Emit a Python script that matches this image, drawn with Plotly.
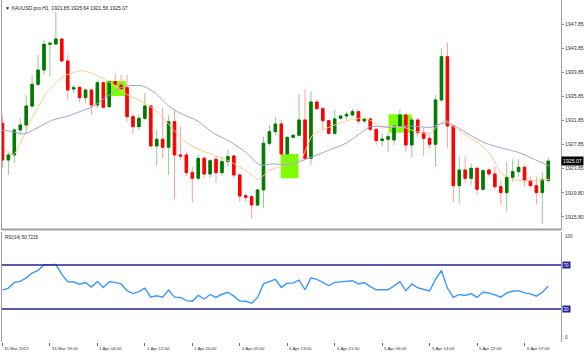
import plotly.graph_objects as go

# ---------------- data ----------------
bars = list(range(1, 94))

opens = [1931.35, 1925.26, 1926.10, 1930.25, 1931.08, 1934.23, 1937.83, 1940.21, 1944.48, 1944.53,
         1945.36, 1941.71, 1937.06, 1937.34, 1935.62, 1936.89, 1934.40, 1938.11, 1934.12, 1938.28,
         1937.72, 1937.28, 1932.46, 1930.80, 1932.19, 1934.23, 1927.59, 1928.70, 1927.37, 1931.63,
         1926.10, 1926.10, 1923.16, 1922.22, 1925.54, 1922.94, 1925.37, 1923.16, 1924.99, 1925.93,
         1922.77, 1919.34, 1919.17, 1917.79, 1920.28, 1928.03, 1929.97, 1931.24, 1926.26, 1929.03,
         1929.36, 1931.91, 1925.54, 1934.90, 1933.79, 1931.80, 1929.69, 1932.19, 1932.57, 1932.74,
         1933.29, 1931.74, 1932.08, 1930.36, 1928.48, 1928.70, 1928.59, 1930.91, 1932.74, 1927.76,
         1931.91, 1929.80, 1928.86, 1927.87, 1935.23, 1942.43, 1930.91, 1921.00, 1923.60, 1922.22,
         1923.88, 1920.39, 1923.60, 1922.94, 1920.83, 1919.84, 1922.39, 1923.33, 1924.05, 1921.83,
         1921.00, 1919.84, 1921.85]
highs = [1932.74, 1926.65, 1930.52, 1932.19, 1936.06, 1939.38, 1942.71, 1945.20, 1944.92, 1949.85,
         1945.47, 1942.71, 1937.72, 1937.45, 1937.17, 1937.17, 1938.55, 1938.28, 1938.55, 1939.66,
         1939.38, 1939.38, 1933.02, 1932.85, 1936.34, 1934.40, 1930.25, 1934.01, 1932.74, 1933.57,
         1930.80, 1926.65, 1924.16, 1926.21, 1925.93, 1925.37, 1925.93, 1925.82, 1926.93, 1926.10,
         1923.05, 1919.73, 1919.45, 1920.56, 1929.14, 1931.08, 1932.46, 1931.91, 1929.14, 1929.53,
         1936.23, 1937.00, 1936.62, 1935.23, 1934.01, 1931.91, 1933.57, 1932.74, 1933.29, 1933.68,
         1933.57, 1932.19, 1932.30, 1930.52, 1929.69, 1929.80, 1931.91, 1933.68, 1933.02, 1932.19,
         1932.19, 1930.80, 1929.42, 1936.06, 1943.81, 1944.75, 1931.08, 1925.82, 1925.82, 1924.71,
         1924.16, 1923.71, 1923.88, 1924.16, 1921.94, 1924.99, 1925.37, 1925.37, 1924.43, 1922.50,
         1922.50, 1923.33, 1925.64]
lows = [1923.88, 1922.77, 1924.71, 1929.42, 1929.69, 1933.85, 1937.45, 1939.38, 1939.11, 1944.37,
        1941.60, 1935.23, 1936.34, 1934.79, 1934.68, 1932.74, 1933.85, 1933.85, 1934.01, 1936.89,
        1936.89, 1931.63, 1929.53, 1930.25, 1931.91, 1927.48, 1924.32, 1925.54, 1922.77, 1918.73,
        1925.26, 1922.61, 1918.18, 1921.94, 1922.22, 1922.22, 1921.50, 1922.61, 1924.16, 1922.22,
        1918.34, 1918.34, 1915.57, 1917.51, 1917.24, 1927.59, 1929.42, 1925.54, 1924.16, 1928.86,
        1929.03, 1925.37, 1924.43, 1933.57, 1930.25, 1929.42, 1929.42, 1932.02, 1931.91, 1932.46,
        1931.19, 1931.35, 1929.97, 1927.76, 1927.48, 1926.65, 1927.76, 1929.97, 1926.65, 1925.71,
        1929.14, 1925.93, 1927.20, 1924.16, 1934.95, 1927.20, 1918.18, 1918.07, 1921.39, 1921.11,
        1919.45, 1920.17, 1922.50, 1920.28, 1917.79, 1916.68, 1921.66, 1922.50, 1920.83, 1920.72,
        1917.90, 1914.74, 1921.56]
closes = [1925.26, 1926.10, 1930.25, 1931.08, 1934.23, 1937.83, 1940.21, 1944.48, 1944.64, 1945.36,
          1941.71, 1936.89, 1937.28, 1935.62, 1936.89, 1934.40, 1938.11, 1934.01, 1938.28, 1937.83,
          1937.06, 1932.46, 1930.80, 1932.19, 1934.23, 1927.59, 1928.70, 1927.37, 1931.63, 1926.10,
          1925.93, 1923.16, 1922.22, 1925.54, 1922.94, 1925.15, 1923.16, 1924.99, 1925.82, 1922.77,
          1919.28, 1919.06, 1917.79, 1920.28, 1928.03, 1929.97, 1931.24, 1926.26, 1929.03, 1929.36,
          1931.91, 1925.54, 1934.90, 1933.79, 1931.80, 1929.69, 1932.08, 1932.57, 1932.85, 1933.29,
          1931.74, 1932.08, 1930.36, 1928.48, 1928.75, 1929.14, 1930.91, 1932.74, 1927.76, 1931.91,
          1929.80, 1928.86, 1927.87, 1935.23, 1942.43, 1930.91, 1921.00, 1923.60, 1922.22, 1923.88,
          1920.39, 1923.49, 1922.94, 1920.83, 1919.84, 1922.39, 1923.33, 1924.05, 1921.83, 1921.00,
          1919.84, 1922.05, 1925.07]

rsi = [47.2, 49.0, 54.2, 55.1, 58.3, 62.7, 65.0, 70.2, 70.3, 70.4,
       61.5, 54.8, 54.5, 52.5, 54.0, 49.9, 55.1, 49.6, 54.8, 54.2,
       52.8, 46.7, 44.0, 45.8, 49.0, 40.8, 42.0, 40.8, 47.2, 40.8,
       40.5, 37.6, 37.0, 42.3, 39.1, 43.2, 40.5, 43.4, 45.2, 41.7,
       37.3, 37.0, 35.3, 40.5, 52.8, 55.1, 56.9, 49.6, 53.4, 53.7,
       56.3, 47.5, 58.3, 56.9, 54.2, 51.3, 54.2, 54.5, 54.8, 55.7,
       52.8, 54.0, 50.4, 47.5, 47.5, 47.5, 51.0, 54.8, 46.7, 52.8,
       49.3, 48.1, 46.4, 56.9, 65.0, 49.0, 40.5, 43.2, 42.3, 44.0,
       40.5, 45.2, 44.6, 42.9, 40.8, 44.6, 46.1, 46.7, 44.6, 43.7,
       41.7, 45.2, 50.72]
rsi_last = "50.7215"

fast_ma_x = [1.4, 2.8, 6.1, 8.4, 11.2, 14.5, 17.3, 19.8, 21.8, 24.6, 27.4, 29.6, 31.8,
             34.3, 36.6, 39.4, 42.2, 44.1, 46.1, 48.9, 51.1, 53.3, 55.6, 57.8, 60.0, 62.3,
             64.7, 68.6, 70.8, 73.1, 74.2, 75.6, 76.7, 78.6, 80.9, 83.1, 85.1, 87.6, 89.8, 93.2]
fast_ma = [1926.93, 1926.10, 1932.46, 1936.34, 1939.11, 1940.10, 1939.11, 1937.72, 1936.23, 1934.95,
           1933.02, 1930.52, 1928.31, 1926.93, 1926.10, 1924.99, 1923.33, 1922.05, 1923.60, 1924.43,
           1924.99, 1929.42, 1930.52, 1931.35, 1932.02, 1932.19, 1930.91, 1930.69, 1929.97, 1929.69,
           1930.80, 1931.91, 1931.08, 1929.69, 1928.31, 1926.37, 1923.05, 1921.94, 1921.83, 1922.05]

slow_ma_x = [0.6, 2.2, 4.7, 6.7, 9.5, 11.7, 14.0, 16.2, 18.4, 20.7, 21.8, 24.6, 26.8, 29.0,
             31.0, 33.8, 36.6, 39.4, 42.2, 44.4, 46.6, 48.9, 51.1, 53.3, 56.1, 58.9, 61.7,
             63.0, 66.3, 69.7, 73.1, 75.8, 77.5, 79.8, 82.5, 85.3, 88.1, 90.9, 93.2]
slow_ma = [1930.25, 1930.08, 1929.58, 1930.52, 1931.91, 1932.46, 1933.29, 1934.12, 1935.67, 1937.17,
           1937.56, 1937.56, 1936.34, 1934.23, 1933.02, 1931.80, 1929.69, 1928.31, 1926.37, 1924.43,
           1924.60, 1924.43, 1924.99, 1925.82, 1926.93, 1928.03, 1929.97, 1930.80, 1930.69, 1930.91,
           1930.69, 1931.47, 1930.80, 1929.42, 1928.03, 1927.20, 1926.48, 1925.26, 1924.27]

box_start = [18.4, 47.9, 66.1]
box_end = [21.8, 50.9, 70.0]
box_low = [1935.90, 1922.22, 1929.80]
box_high = [1938.39, 1926.26, 1932.85]

price_ticks = [1947.85, 1943.85, 1939.85, 1935.85, 1931.85, 1927.85, 1923.85, 1919.80, 1915.80]
price_tick_text = ["1947.85", "1943.85", "1939.85", "1935.85", "1931.85", "1927.85", "1923.85",
                   "1919.80", "1915.80"]
time_tick_bars = [1, 9, 17, 25, 33, 41, 49, 57, 65, 73, 81, 89]
time_tick_labels = ["31 Mar 2022", "31 Mar 19:00", "1 Apr 04:00", "1 Apr 12:00", "1 Apr 20:00",
                    "4 Apr 05:00", "4 Apr 13:00", "4 Apr 21:00", "5 Apr 06:00", "5 Apr 14:00",
                    "5 Apr 22:00", "6 Apr 07:00"]
rsi_levels = [70, 30]
rsi_scale = [100, 0]
symbol = "XAUUSD.pro,H1"

# ---------------- styling ----------------
FONT = "Liberation Sans"
GREEN = "#007A00"
RED = "#FF0000"
GREEN_WICK = "#92CC92"
RED_WICK = "#FF9E9E"
FRAME = "#A0A0A0"
NAVY = "#24249A"
TXT = "#333333"

W, H = 587, 357
ML, MR, MT, MB = 2, 26, 0, 15
plot_h = H - MT - MB
main_bottom_px = 230
rsi_top_px = 232
main_dom = [(plot_h - main_bottom_px) / plot_h, 1.0]
rsi_dom = [0.0, (plot_h - rsi_top_px) / plot_h]

fig = go.Figure()

# wicks (light)
fig.add_trace(go.Candlestick(
    x=bars, open=opens, high=highs, low=lows, close=closes,
    increasing=dict(line=dict(color=GREEN_WICK, width=1), fillcolor="rgba(0,0,0,0)"),
    decreasing=dict(line=dict(color=RED_WICK, width=1), fillcolor="rgba(0,0,0,0)"),
    xaxis="x", yaxis="y", hoverinfo="skip"))
# bodies (solid)
body_hi = [max(o, c) for o, c in zip(opens, closes)]
body_lo = [min(o, c) for o, c in zip(opens, closes)]
fig.add_trace(go.Candlestick(
    x=bars, open=opens, high=body_hi, low=body_lo, close=closes,
    increasing=dict(line=dict(color=GREEN, width=1), fillcolor=GREEN),
    decreasing=dict(line=dict(color=RED, width=1), fillcolor=RED),
    xaxis="x", yaxis="y", hoverinfo="skip"))

fig.add_trace(go.Scatter(x=fast_ma_x, y=fast_ma, mode="lines",
                         line=dict(color="#FFCB8C", width=1, shape="spline", smoothing=0.6),
                         xaxis="x", yaxis="y", hoverinfo="skip"))
fig.add_trace(go.Scatter(x=slow_ma_x, y=slow_ma, mode="lines",
                         line=dict(color="#A0A0DC", width=1, shape="spline", smoothing=0.6),
                         xaxis="x", yaxis="y", hoverinfo="skip"))

fig.add_trace(go.Scatter(x=bars, y=rsi, mode="lines",
                         line=dict(color="#3A98FF", width=1.4),
                         xaxis="x", yaxis="y2", hoverinfo="skip"))

shapes = []
for x0, x1, lo, hi in zip(box_start, box_end, box_low, box_high):
    shapes.append(dict(type="rect", xref="x", yref="y", x0=x0, x1=x1, y0=lo, y1=hi,
                       fillcolor="#80FF00", line=dict(width=0), layer="below"))
for lv in rsi_levels:
    shapes.append(dict(type="line", xref="paper", yref="y2", x0=0, x1=1, y0=lv, y1=lv,
                       line=dict(color=NAVY, width=1.5)))
# separator between panels
sep_y = (plot_h - 229.5) / plot_h
shapes.append(dict(type="line", xref="paper", yref="paper", x0=0, x1=1, y0=sep_y, y1=sep_y,
                   line=dict(color=FRAME, width=2)))

annotations = []
for b, t in zip(time_tick_bars, time_tick_labels):
    annotations.append(dict(x=b, xref="x", y=(plot_h - 349) / plot_h, yref="paper",
                            text=t, showarrow=False, xanchor="left", yanchor="middle",
                            xshift=0, font=dict(family=FONT, size=4.4, color=TXT)))
# price scale labels
for p, t in zip(price_ticks, price_tick_text):
    annotations.append(dict(x=1, xref="paper", y=p, yref="y", text=t, showarrow=False,
                            xanchor="left", yanchor="middle", xshift=2,
                            font=dict(family=FONT, size=5.2, color=TXT)))
for v in rsi_scale:
    annotations.append(dict(x=1, xref="paper", y=v, yref="y2", text=str(v), showarrow=False,
                            xanchor="left", yanchor="top" if v == 100 else "bottom",
                            xshift=2, font=dict(family=FONT, size=4.6, color=TXT)))
# title
annotations.append(dict(x=0, xref="paper", y=1, yref="paper", xanchor="left", yanchor="top",
                        xshift=1, yshift=-3, showarrow=False,
                        text=f"▼ {symbol}  {opens[-1]:.2f} {highs[-1]:.2f} {lows[-1]:.2f} {closes[-1]:.2f}",
                        font=dict(family=FONT, size=5, color="#222222")))
annotations.append(dict(x=0, xref="paper", y=rsi_dom[1], yref="paper", xanchor="left",
                        yanchor="top", xshift=1, yshift=-1, showarrow=False,
                        text=f"RSI(14) {rsi_last}",
                        font=dict(family=FONT, size=4.5, color="#222222")))
# current price label
annotations.append(dict(x=1, xref="paper", y=closes[-1], yref="y", xanchor="left",
                        yanchor="middle", showarrow=False, text=f"{closes[-1]:.2f}",
                        bgcolor="#000000", borderpad=1,
                        font=dict(family=FONT, size=5.2, color="#FFFFFF")))
for lv in rsi_levels:
    annotations.append(dict(x=1, xref="paper", y=lv, yref="y2", xanchor="left",
                            yanchor="middle", xshift=1, showarrow=False, text=str(lv),
                            bgcolor=NAVY, borderpad=0.5,
                            font=dict(family=FONT, size=4.5, color="#FFFFFF")))

fig.update_layout(
    width=W, height=H,
    margin=dict(l=ML, r=MR, t=MT, b=MB, autoexpand=False),
    paper_bgcolor="white", plot_bgcolor="white",
    showlegend=False, hovermode=False, boxgap=0.4,
    font=dict(family=FONT),
    shapes=shapes, annotations=annotations,
    xaxis=dict(domain=[0, 1], anchor="y2", range=[0.92, 95.15], automargin=False,
               showgrid=False, zeroline=False, showline=False,
               tickvals=time_tick_bars, ticks="outside", ticklen=3, tickcolor="#666666",
               showticklabels=False, rangeslider=dict(visible=False)),
    yaxis=dict(domain=main_dom, range=[1913.63, 1951.84], side="right", automargin=False,
               showgrid=False, zeroline=False, showline=True, mirror=True,
               linecolor=FRAME, linewidth=1,
               tickvals=price_ticks, ticks="outside", ticklen=2, tickcolor="#888888",
               showticklabels=False),
    yaxis2=dict(domain=rsi_dom, range=[0, 100], side="right", automargin=False,
                showgrid=False, zeroline=False, showline=True, mirror=True,
                linecolor=FRAME, linewidth=1, ticks="", showticklabels=False),
)

fig.write_html("out.html",
               config={"displayModeBar": False, "staticPlot": True},
               post_script="document.body.style.margin='0';document.body.style.padding='0';"
                           "document.body.style.overflow='hidden';")
